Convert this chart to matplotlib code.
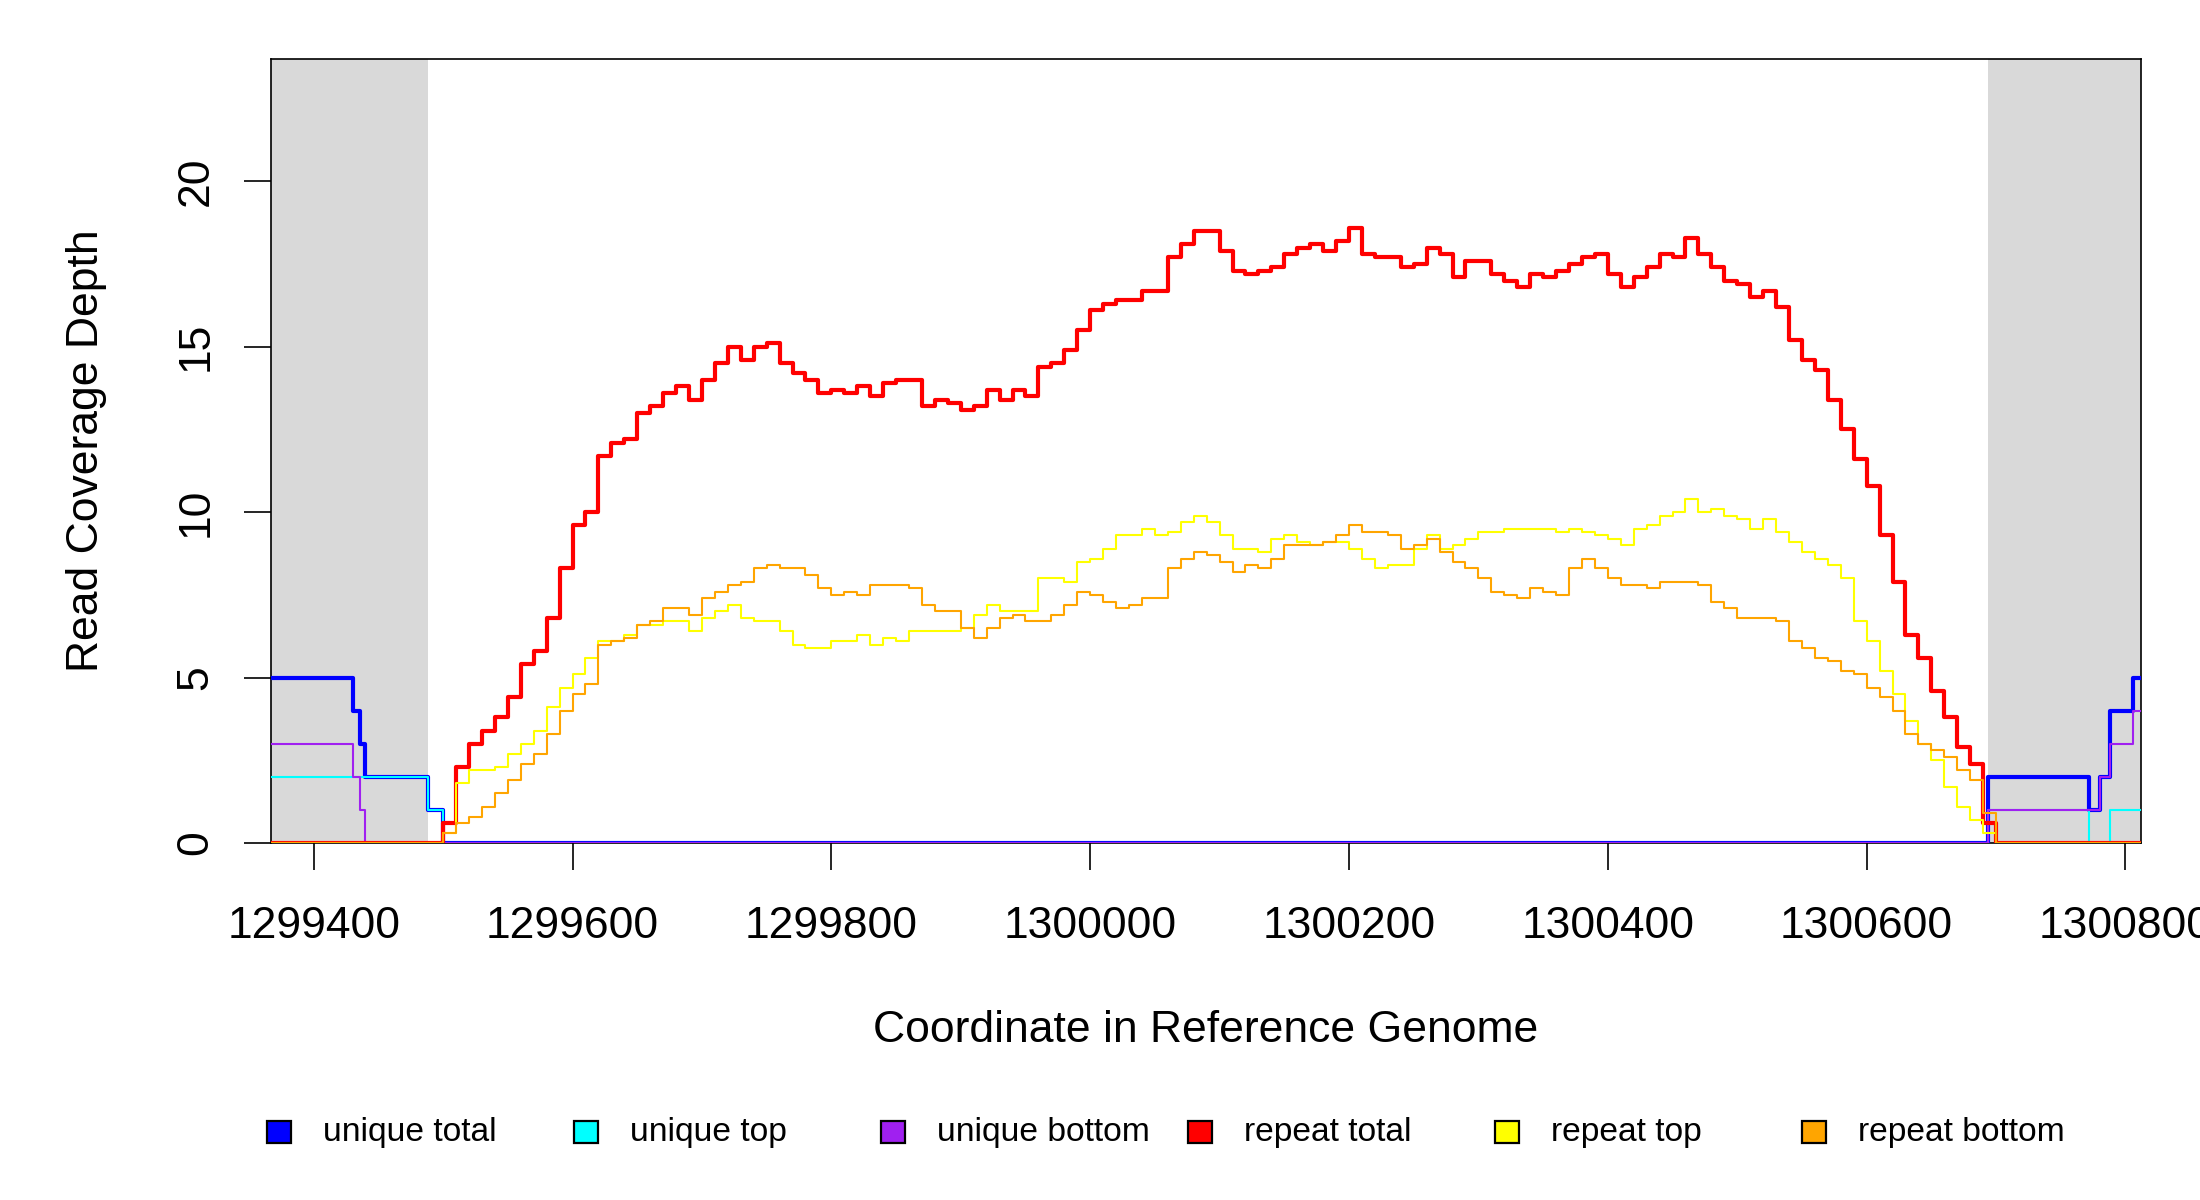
"""Read coverage depth around a repeat region, unique vs repeat reads."""

import matplotlib

matplotlib.use("Agg")
import matplotlib.pyplot as plt
import numpy as np
from matplotlib.patches import Rectangle

plt.rcParams["font.family"] = ["Liberation Sans", "DejaVu Sans"]

# flanking (gray) regions of the plot
x_left, x_right = 1299367, 1300812
flank_left_end = 1299488
flank_right_start = 1300694

# unique coverage: step breakpoints and values
unique_pos = [1299367, 1299430, 1299436, 1299440, 1299488, 1299500,
              1300694, 1300772, 1300780, 1300788, 1300806, 1300812]
unique_total = [5, 4, 3, 2, 1, 0, 2, 1, 2, 4, 5, 5]
unique_top = [2, 2, 2, 2, 1, 0, 1, 0, 0, 1, 1, 1]
unique_bottom = [3, 2, 1, 0, 0, 0, 1, 1, 2, 3, 4, 4]

# repeat coverage sampled every 10 bp from 1299500 to 1300700
repeat_start, repeat_step = 1299500, 10
repeat_total = [
    0.6, 2.3, 3.0, 3.4, 3.8, 4.4, 5.4, 5.8, 6.8, 8.3,
    9.6, 10.0, 11.7, 12.1, 12.2, 13.0, 13.2, 13.6, 13.8, 13.4,
    14.0, 14.5, 15.0, 14.6, 15.0, 15.1, 14.5, 14.2, 14.0, 13.6,
    13.7, 13.6, 13.8, 13.5, 13.9, 14.0, 14.0, 13.2, 13.4, 13.3,
    13.1, 13.2, 13.7, 13.4, 13.7, 13.5, 14.4, 14.5, 14.9, 15.5,
    16.1, 16.3, 16.4, 16.4, 16.7, 16.7, 17.7, 18.1, 18.5, 18.5,
    17.9, 17.3, 17.2, 17.3, 17.4, 17.8, 18.0, 18.1, 17.9, 18.2,
    18.6, 17.8, 17.7, 17.7, 17.4, 17.5, 18.0, 17.8, 17.1, 17.6,
    17.6, 17.2, 17.0, 16.8, 17.2, 17.1, 17.3, 17.5, 17.7, 17.8,
    17.2, 16.8, 17.1, 17.4, 17.8, 17.7, 18.3, 17.8, 17.4, 17.0,
    16.9, 16.5, 16.7, 16.2, 15.2, 14.6, 14.3, 13.4, 12.5, 11.6,
    10.8, 9.3, 7.9, 6.3, 5.6, 4.6, 3.8, 2.9, 2.4, 0.6,
    0.0,
]
repeat_top = [
    0.3, 1.8, 2.2, 2.2, 2.3, 2.7, 3.0, 3.4, 4.1, 4.7,
    5.1, 5.6, 6.1, 6.1, 6.3, 6.6, 6.6, 6.7, 6.7, 6.4,
    6.8, 7.0, 7.2, 6.8, 6.7, 6.7, 6.4, 6.0, 5.9, 5.9,
    6.1, 6.1, 6.3, 6.0, 6.2, 6.1, 6.4, 6.4, 6.4, 6.4,
    6.5, 6.9, 7.2, 7.0, 7.0, 7.0, 8.0, 8.0, 7.9, 8.5,
    8.6, 8.9, 9.3, 9.3, 9.5, 9.3, 9.4, 9.7, 9.9, 9.7,
    9.3, 8.9, 8.9, 8.8, 9.2, 9.3, 9.1, 9.0, 9.1, 9.1,
    8.9, 8.6, 8.3, 8.4, 8.4, 8.9, 9.3, 8.9, 9.0, 9.2,
    9.4, 9.4, 9.5, 9.5, 9.5, 9.5, 9.4, 9.5, 9.4, 9.3,
    9.2, 9.0, 9.5, 9.6, 9.9, 10.0, 10.4, 10.0, 10.1, 9.9,
    9.8, 9.5, 9.8, 9.4, 9.1, 8.8, 8.6, 8.4, 8.0, 6.7,
    6.1, 5.2, 4.5, 3.7, 3.0, 2.5, 1.7, 1.1, 0.7, 0.3,
    0.0,
]
repeat_bottom = [
    0.3, 0.6, 0.8, 1.1, 1.5, 1.9, 2.4, 2.7, 3.3, 4.0,
    4.5, 4.8, 6.0, 6.1, 6.2, 6.6, 6.7, 7.1, 7.1, 6.9,
    7.4, 7.6, 7.8, 7.9, 8.3, 8.4, 8.3, 8.3, 8.1, 7.7,
    7.5, 7.6, 7.5, 7.8, 7.8, 7.8, 7.7, 7.2, 7.0, 7.0,
    6.5, 6.2, 6.5, 6.8, 6.9, 6.7, 6.7, 6.9, 7.2, 7.6,
    7.5, 7.3, 7.1, 7.2, 7.4, 7.4, 8.3, 8.6, 8.8, 8.7,
    8.5, 8.2, 8.4, 8.3, 8.6, 9.0, 9.0, 9.0, 9.1, 9.3,
    9.6, 9.4, 9.4, 9.3, 8.9, 9.0, 9.2, 8.8, 8.5, 8.3,
    8.0, 7.6, 7.5, 7.4, 7.7, 7.6, 7.5, 8.3, 8.6, 8.3,
    8.0, 7.8, 7.8, 7.7, 7.9, 7.9, 7.9, 7.8, 7.3, 7.1,
    6.8, 6.8, 6.8, 6.7, 6.1, 5.9, 5.6, 5.5, 5.2, 5.1,
    4.7, 4.4, 4.0, 3.3, 3.0, 2.8, 2.6, 2.2, 1.9, 0.9,
    0.0,
]

x_ticks = [1299400, 1299600, 1299800, 1300000, 1300200, 1300400, 1300600, 1300800]
y_ticks = [0, 5, 10, 15, 20]

series = [
    ("unique total", "#0000FF", 1.5),
    ("unique top", "#00FFFF", 0.75),
    ("unique bottom", "#A020F0", 0.75),
    ("repeat total", "#FF0000", 1.5),
    ("repeat top", "#FFFF00", 0.75),
    ("repeat bottom", "#FFA500", 0.75),
]


def repeat_xy(values):
    """Pad a repeat series with zero outside the sampled range."""

    grid = repeat_start + repeat_step * np.arange(len(values))
    xs = np.concatenate([[x_left], grid, [x_right]])
    ys = np.concatenate([[0.0], values, [0.0]])
    return xs, ys


fig = plt.figure(figsize=(11, 6), dpi=200)
ax = fig.add_axes([271 / 2200, 1 - 843 / 1200, 1870 / 2200, 784 / 1200])

ax.set_xlim(x_left, x_right)
ax.set_ylim(0, 23.7)

ax.add_patch(Rectangle((x_left, 0), flank_left_end - x_left, 23.7,
                       facecolor="#D9D9D9", edgecolor="none", zorder=0))
ax.add_patch(Rectangle((flank_right_start, 0), x_right - flank_right_start, 23.7,
                       facecolor="#D9D9D9", edgecolor="none", zorder=0))

data = [
    (unique_pos, unique_total),
    (unique_pos, unique_top),
    (unique_pos, unique_bottom),
    repeat_xy(repeat_total),
    repeat_xy(repeat_top),
    repeat_xy(repeat_bottom),
]
for (label, color, width), (xs, ys) in zip(series, data):
    ax.plot(xs, ys, drawstyle="steps-post", color=color, linewidth=width, zorder=3)

ax.set_xticks(x_ticks)
ax.set_xticklabels([str(t) for t in x_ticks])
ax.set_yticks(y_ticks)
ax.set_yticklabels([str(t) for t in y_ticks], rotation=90, va="center")
ax.tick_params(axis="both", direction="out", length=9.7, width=0.6,
               labelsize=16, colors="black")
ax.tick_params(axis="x", pad=13)
ax.tick_params(axis="y", pad=10)
for spine in ax.spines.values():
    spine.set_linewidth(0.6)
    spine.set_color("black")

ax.set_xlabel("Coordinate in Reference Genome", fontsize=16, va="center")
ax.xaxis.set_label_coords(0.5, -187 / 784)
ax.set_ylabel("Read Coverage Depth", fontsize=16, va="center")
ax.yaxis.set_label_coords(-184 / 1870, 0.5)

# legend row along the bottom
legend_y = 1 - 1132 / 1200
for i, (label, color, _) in enumerate(series):
    box_x = (279 + 307 * i) / 2200
    fig.patches.append(Rectangle((box_x - 12 / 2200, legend_y - 11 / 1200), 24 / 2200, 22 / 1200,
                                 transform=fig.transFigure, facecolor=color,
                                 edgecolor="black", linewidth=0.8))
    fig.text((323 + 307 * i) / 2200, legend_y, label, fontsize=12.1, ha="left", va="center")

fig.savefig("out.png", dpi=200)
